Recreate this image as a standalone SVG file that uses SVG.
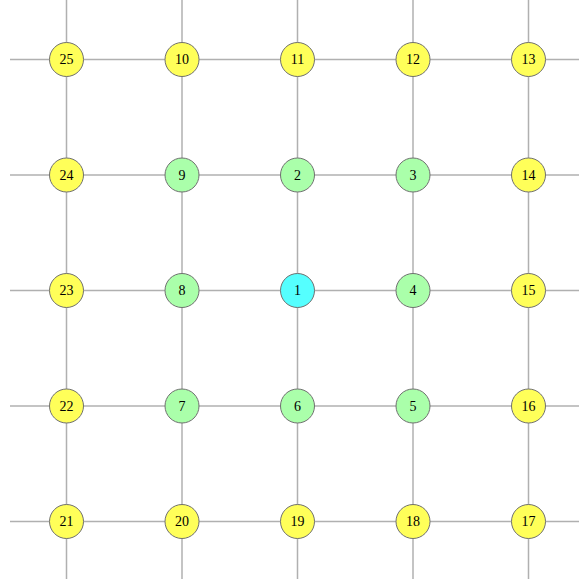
<svg xmlns="http://www.w3.org/2000/svg" width="579" height="584" viewBox="0 0 579 584">
<style>
.e{stroke:#b0b0b0;stroke-width:1.5;fill:none}
.n circle{stroke:#707070;stroke-width:1}
.y circle{fill:#ffff59}
.g circle{fill:#aaffaa}
.c circle{fill:#55ffff}
.n text{font-family:"Liberation Serif",serif;font-size:14px;fill:#000;text-anchor:middle;dominant-baseline:central}
</style>
<rect width="579" height="584" fill="#fff"/>
<g id="connectors">
<line class="e" x1="10" y1="59.5" x2="579" y2="59.5"/>
<line class="e" x1="10" y1="175" x2="579" y2="175"/>
<line class="e" x1="10" y1="290.5" x2="579" y2="290.5"/>
<line class="e" x1="10" y1="406" x2="579" y2="406"/>
<line class="e" x1="10" y1="521.5" x2="579" y2="521.5"/>
<line class="e" x1="66.5" y1="0" x2="66.5" y2="579"/>
<line class="e" x1="182" y1="0" x2="182" y2="579"/>
<line class="e" x1="297.5" y1="0" x2="297.5" y2="579"/>
<line class="e" x1="413" y1="0" x2="413" y2="579"/>
<line class="e" x1="528.5" y1="0" x2="528.5" y2="579"/>
</g>
<g id="n25" class="n y"><circle cx="66.5" cy="59.5" r="17"/><text x="66.5" y="59.5">25</text></g>
<g id="n10" class="n y"><circle cx="182" cy="59.5" r="17"/><text x="182" y="59.5">10</text></g>
<g id="n11" class="n y"><circle cx="297.5" cy="59.5" r="17"/><text x="297.5" y="59.5">11</text></g>
<g id="n12" class="n y"><circle cx="413" cy="59.5" r="17"/><text x="413" y="59.5">12</text></g>
<g id="n13" class="n y"><circle cx="528.5" cy="59.5" r="17"/><text x="528.5" y="59.5">13</text></g>
<g id="n24" class="n y"><circle cx="66.5" cy="175" r="17"/><text x="66.5" y="175">24</text></g>
<g id="n9" class="n g"><circle cx="182" cy="175" r="17"/><text x="182" y="175">9</text></g>
<g id="n2" class="n g"><circle cx="297.5" cy="175" r="17"/><text x="297.5" y="175">2</text></g>
<g id="n3" class="n g"><circle cx="413" cy="175" r="17"/><text x="413" y="175">3</text></g>
<g id="n14" class="n y"><circle cx="528.5" cy="175" r="17"/><text x="528.5" y="175">14</text></g>
<g id="n23" class="n y"><circle cx="66.5" cy="290.5" r="17"/><text x="66.5" y="290.5">23</text></g>
<g id="n8" class="n g"><circle cx="182" cy="290.5" r="17"/><text x="182" y="290.5">8</text></g>
<g id="n1" class="n c"><circle cx="297.5" cy="290.5" r="17"/><text x="297.5" y="290.5">1</text></g>
<g id="n4" class="n g"><circle cx="413" cy="290.5" r="17"/><text x="413" y="290.5">4</text></g>
<g id="n15" class="n y"><circle cx="528.5" cy="290.5" r="17"/><text x="528.5" y="290.5">15</text></g>
<g id="n22" class="n y"><circle cx="66.5" cy="406" r="17"/><text x="66.5" y="406">22</text></g>
<g id="n7" class="n g"><circle cx="182" cy="406" r="17"/><text x="182" y="406">7</text></g>
<g id="n6" class="n g"><circle cx="297.5" cy="406" r="17"/><text x="297.5" y="406">6</text></g>
<g id="n5" class="n g"><circle cx="413" cy="406" r="17"/><text x="413" y="406">5</text></g>
<g id="n16" class="n y"><circle cx="528.5" cy="406" r="17"/><text x="528.5" y="406">16</text></g>
<g id="n21" class="n y"><circle cx="66.5" cy="521.5" r="17"/><text x="66.5" y="521.5">21</text></g>
<g id="n20" class="n y"><circle cx="182" cy="521.5" r="17"/><text x="182" y="521.5">20</text></g>
<g id="n19" class="n y"><circle cx="297.5" cy="521.5" r="17"/><text x="297.5" y="521.5">19</text></g>
<g id="n18" class="n y"><circle cx="413" cy="521.5" r="17"/><text x="413" y="521.5">18</text></g>
<g id="n17" class="n y"><circle cx="528.5" cy="521.5" r="17"/><text x="528.5" y="521.5">17</text></g>
</svg>
